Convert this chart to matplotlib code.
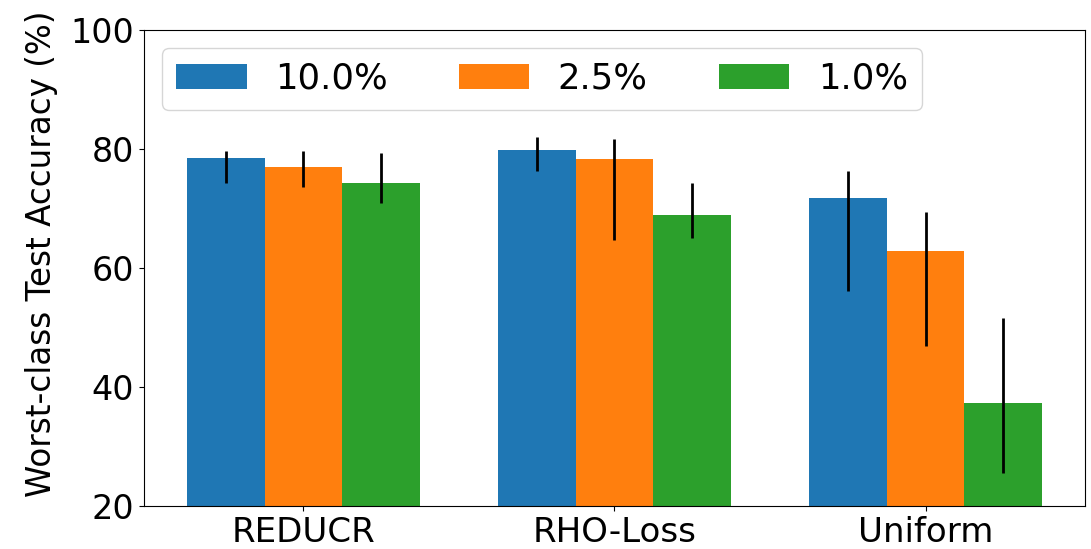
import numpy as np
import matplotlib
matplotlib.use("Agg")
import matplotlib.pyplot as plt

methods = ["REDUCR", "RHO-Loss", "Uniform"]
series = ["10.0%", "2.5%", "1.0%"]
colors = ["#1f77b4", "#ff7f0e", "#2ca02c"]

# mean values per series (rows) for each method (columns)
means = [
    [78.5, 79.9, 71.8],   # 10.0%
    [77.0, 78.4, 62.8],   # 2.5%
    [74.3, 68.9, 37.3],   # 1.0%
]
# error-bar upper ends
upper = [
    [79.6, 82.0, 76.3],
    [79.6, 81.7, 69.4],
    [79.3, 74.25, 51.6],
]
# error-bar lower ends
lower = [
    [74.25, 76.25, 56.2],
    [73.55, 64.65, 46.9],
    [70.85, 65.1, 25.6],
]

fig = plt.figure(figsize=(10.91, 5.49), dpi=100)
ax = fig.add_axes([144/1091, 1 - 506/549, (1085-144)/1091, (506-30)/549])

x = np.arange(len(methods))
width = 0.25
for i, (name, c) in enumerate(zip(series, colors)):
    m = np.array(means[i])
    yerr = np.vstack([m - np.array(lower[i]), np.array(upper[i]) - m])
    ax.bar(x + (i - 1) * width, m, width, color=c, label=name,
           yerr=yerr, error_kw=dict(ecolor="black", elinewidth=2, capsize=0))

ax.set_ylim(20, 100)
ax.set_yticks([20, 40, 60, 80, 100])
ax.set_xticks(x)
ax.set_xticklabels(methods)
ax.tick_params(axis="x", labelsize=24.5)
ax.tick_params(axis="y", labelsize=24)
ax.set_ylabel("Worst-class Test Accuracy (%)", fontsize=23.5, labelpad=9, y=0.53)
ax.legend(ncol=3, loc="upper left", fontsize=25.5)

fig.savefig("out.png", dpi=100)
